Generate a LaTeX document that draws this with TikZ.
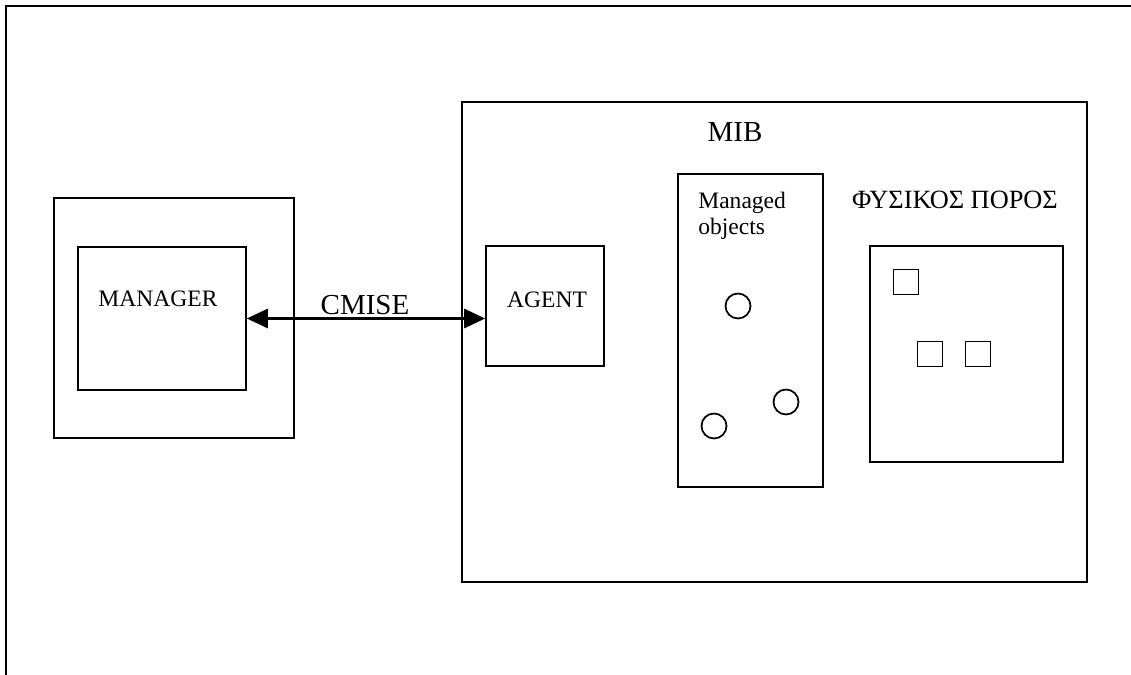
\documentclass[tikz,border=0pt]{standalone}
\usepackage{fontspec}
\setmainfont{Liberation Serif}
\usepackage{tikz}
\usetikzlibrary{arrows.meta}

\begin{document}
\begin{tikzpicture}[x=0.02cm,y=-0.02cm]
      \tikzstyle{every node}=[inner sep=0pt]
      \tikzstyle{box}=[draw,line width=1pt,shape=rectangle]
      \tikzstyle{small}=[font=\fontsize{13.4}{14.8}\selectfont]
      \tikzstyle{big}=[font=\fontsize{16.5}{18}\selectfont]
      \useasboundingbox (0,0) rectangle (1131,675);

      % frame
      \coordinate (ftr) at (1131,6);
      \coordinate (ftl) at (6,6);
      \coordinate (fbl) at (6,675);
      \draw[line width=1.3pt] (ftr) -- (ftl) -- (fbl);

      % manager side
      \node[box,minimum width=4.8cm,minimum height=4.8cm] (mgrout) at (174,318) {};
      \node[box,minimum width=3.36cm,minimum height=2.86cm] (mgr) at (162,318.5) {};
      \node[small,anchor=base] (mgrtxt) at (158,306) {MANAGER};

      % agent side
      \node[box,minimum width=12.5cm,minimum height=9.6cm] (mib) at (774.5,342) {};
      \node[big,anchor=base] (mibtxt) at (735,142) {MIB};
      \node[box,minimum width=2.36cm,minimum height=2.4cm] (agent) at (545,306) {};
      \node[small,anchor=base] (agenttxt) at (547,307) {AGENT};

      \node[box,minimum width=2.9cm,minimum height=6.26cm] (objs) at (750.5,330.5) {};
      \node[small,align=left,anchor=north west] (objstxt) at (698,192) {Managed\\objects};
      \node[box,shape=circle,minimum size=0.5cm] (o1) at (738,306) {};
      \node[box,shape=circle,minimum size=0.5cm] (o2) at (786,402) {};
      \node[box,shape=circle,minimum size=0.5cm] (o3) at (714,426) {};

      \node[font=\fontsize{15}{16}\selectfont,anchor=base] (restxt) at (955,209) {ΦΥΣΙΚΟΣ ΠΟΡΟΣ};
      \node[box,minimum width=3.86cm,minimum height=4.32cm] (res) at (966.5,354) {};
      \node[box,minimum size=0.5cm] (r1) at (906,282) {};
      \node[box,minimum size=0.5cm] (r2) at (930,354) {};
      \node[box,minimum size=0.5cm] (r3) at (978,354) {};

      % CMISE link
      \draw[line width=1.2pt,{Triangle[length=12pt,width=11pt]}-{Triangle[length=12pt,width=11pt]}]
            (mgr.east) -- (agent.west |- mgr.east);
      \node[big,anchor=base] (cmise) at (365,314) {CMISE};
\end{tikzpicture}
\end{document}
